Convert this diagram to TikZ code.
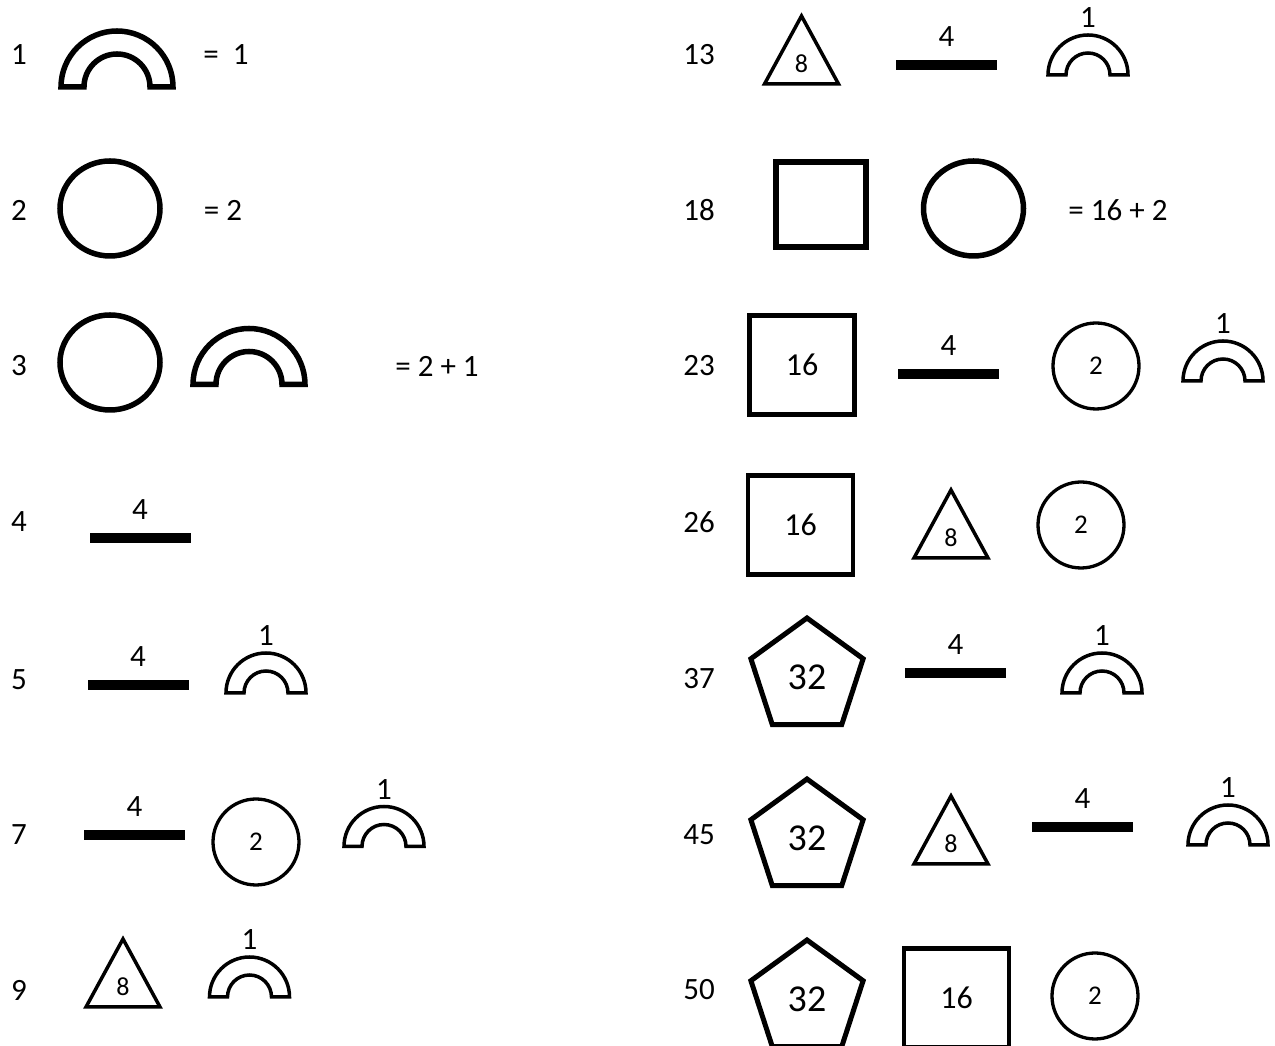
\documentclass[tikz,border=0pt]{standalone}
\usepackage{fontspec}
\setmainfont{Carlito}
\usetikzlibrary{shapes.geometric, positioning}
\newcommand{\numsize}[1]{\fontsize{#1}{#1}\selectfont}

\begin{document}
\begin{tikzpicture}[
    x=1pt, y=1pt,
    %% -- Text styles ------------------------------------------------------
    %%
    %%   numtext: row numbers, the sums and the small labels over bars/arches.
    %%   smallnum: digits set inside triangles.
    numtext/.style={font=\numsize{31}, inner sep=0pt},
    smallnum/.style={font=\numsize{26}, inner sep=0pt},
    %% -- Shape styles -----------------------------------------------------
    %%
    %%   ring:  big empty circle (value 2)
    %%   coin:  small circle with "2" in it
    %%   block: square with "16" in it
    %%   penta: pentagon with "32" in it
    ring/.style={draw, ellipse, line width=5.5pt, minimum width=100pt,
        minimum height=95pt, inner sep=0pt},
    coin/.style={draw, circle, line width=3.3pt, minimum size=86pt,
        inner sep=0pt, font=\numsize{27}},
    block/.style={draw, rectangle, line width=4.5pt, minimum width=105pt,
        minimum height=99pt, inner sep=0pt, font=\numsize{32}},
    penta/.style={draw, regular polygon, regular polygon sides=5,
        line width=5pt, minimum size=118pt, inner sep=0pt, font=\numsize{38}},
    barfill/.style={fill=black, minimum width=101pt, minimum height=10pt,
        inner sep=0pt},
    %% -- Pics -------------------------------------------------------------
    %%
    %%   Usage:  \pic (arch5) at (x,y) {smallarch};   % origin = base middle
    bigarch/.pic={
        \draw[line width=5.5pt] (-56,0) arc[start angle=180, end angle=0, radius=56]
            -- (33,0) arc[start angle=0, end angle=180, radius=33] -- cycle;
    },
    smallarch/.pic={
        \draw[line width=3.5pt] (-40,0) arc[start angle=180, end angle=0, radius=40]
            -- (22,0) arc[start angle=0, end angle=180, radius=22] -- cycle;
        \node[numtext] (-one) at (0,57) {1};
    },
    tri/.pic={
        \draw[line width=3.5pt] (0,33) -- (37,-35) -- (-37,-35) -- cycle;
        \node[smallnum] (-eight) at (0,-15) {8};
    },
    bar/.pic={
        \node[barfill] (-rule) {};
        \node[numtext] (-four) at (0,28) {4};
    },
]
\useasboundingbox (0,0) rectangle (1275,1046);
\clip (0,0) rectangle (1275,1046);

%% -- Row numbers ----------------------------------------------------------

\node[numtext] (n1) at (19,991) {1};
\node[numtext] (n2) at (19,836) {2};
\node[numtext] (n3) at (19,680) {3};
\node[numtext] (n4) at (19,524) {4};
\node[numtext] (n5) at (19,366) {5};
\node[numtext] (n7) at (19,211) {7};
\node[numtext] (n9) at (19,56) {9};

\node[numtext] (n13) at (699,991) {13};
\node[numtext] (n18) at (699,836) {18};
\node[numtext] (n23) at (699,680) {23};
\node[numtext] (n26) at (699,524) {26};
\node[numtext] (n37) at (699,367) {37};
\node[numtext] (n45) at (699,211) {45};
\node[numtext] (n50) at (699,56) {50};

%% -- Left column ----------------------------------------------------------

\pic (arch1) at (117,959) {bigarch};
\node[numtext] (sum1) at (226,991) {=\ \ 1};

\node[ring] (ring2) at (110,837.5) {};
\node[numtext] (sum2) at (223,836) {= 2};

\node[ring] (ring3) at (110,683.5) {};
\pic (arch3) at (249,661.5) {bigarch};
\node[numtext] (sum3) at (437,680) {= 2 + 1};

\pic (bar4) at (140,508) {bar};

\pic (bar5) at (138,361) {bar};
\pic (arch5) at (266,353) {smallarch};

\pic (bar7) at (134.5,211) {bar};
\node[coin] (coin7) at (256,204) {2};
\pic (arch7) at (384,199.5) {smallarch};

\pic (tri9) at (123,74) {tri};
\pic (arch9) at (249.5,49) {smallarch};

%% -- Right column ---------------------------------------------------------

\pic (tri13) at (801.5,997) {tri};
\pic (bar13) at (946.5,981) {bar};
\pic (arch13) at (1088,971) {smallarch};

\node[block, line width=6pt, minimum width=90pt, minimum height=85pt] (block18) at (821,841.5) {};
\node[ring] (ring18) at (973.5,837.5) {};
\node[numtext] (sum18) at (1118,836) {= 16 + 2};

\node[block] (block23) at (802,681) {16};
\pic (bar23) at (948.5,672) {bar};
\node[coin] (coin23) at (1096,680) {2};
\pic (arch23) at (1223,665) {smallarch};

\node[block] (block26) at (800.5,521) {16};
\pic (tri26) at (951,523) {tri};
\node[coin] (coin26) at (1081,521) {2};

\node[penta] (penta37) at (807,369) {32};
\pic (bar37) at (955.5,373) {bar};
\pic (arch37) at (1102,353) {smallarch};

\node[penta] (penta45) at (807,208) {32};
\pic (tri45) at (951,217) {tri};
\pic (bar45) at (1082.5,219) {bar};
\pic (arch45) at (1228,201) {smallarch};

\node[penta] (penta50) at (807,47) {32};
\node[block] (block50) at (956.5,48) {16};
\node[coin] (coin50) at (1095,50) {2};

\end{tikzpicture}
\end{document}
